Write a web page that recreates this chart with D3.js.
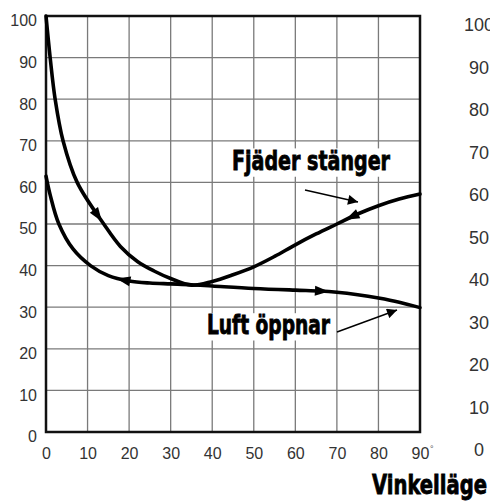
<!DOCTYPE html>
<html>
<head>
<meta charset="utf-8">
<script src="https://cdn.jsdelivr.net/npm/d3@7"></script>
<style>
  body { margin: 0; background: #fff; }
  svg { display: block; }
</style>
</head>
<body>
<div id="chart"></div>
<script>
// Data
const fjaderX = [0, 1, 2.2, 4.1, 7.5, 13.9, 17.9, 22, 26, 30, 35, 40, 45, 50, 55, 60, 65, 70, 75, 80, 85, 90];
const fjaderY = [100, 90, 80, 70, 60, 50, 44.6, 41.0, 38.7, 36.9, 35.3, 36.2, 37.8, 39.7, 42.2, 45.0, 47.6, 50.0, 52.4, 54.4, 56.0, 57.2];
const luftX = [0, 1, 3.1, 6.5, 10.7, 15, 20, 25, 30, 35, 40, 50, 60, 66, 70, 75, 80, 85, 90];
const luftY = [61.5, 57, 50, 44, 40, 37.6, 36.3, 35.8, 35.6, 35.4, 35.1, 34.5, 34.1, 33.9, 33.6, 33.0, 32.2, 31.2, 29.9];
// arrowheads on the curves: x position and direction (+1 toward higher x, -1 toward lower)
const fjaderArrows = [{ x: 12.5, dir: 1 }, { x: 73.6, dir: -1 }];
const luftArrows = [{ x: 18.6, dir: -1 }, { x: 66.4, dir: 1 }];
const xTicks = [0, 10, 20, 30, 40, 50, 60, 70, 80, 90];
const yTicks = [0, 10, 20, 30, 40, 50, 60, 70, 80, 90, 100];

const width = 490, height = 501;
const margin = { top: 16, right: 70, bottom: 69, left: 46 };

const svg = d3.select("#chart").append("svg")
    .attr("width", width)
    .attr("height", height);

const x = d3.scaleLinear().domain([0, 90]).range([margin.left, width - margin.right]);
const y = d3.scaleLinear().domain([0, 100]).range([height - margin.bottom, margin.top]);

// grid
svg.append("g")
    .selectAll("line.v")
    .data(xTicks)
    .enter().append("line")
    .attr("x1", d => x(d)).attr("x2", d => x(d))
    .attr("y1", y(0)).attr("y2", y(100))
    .style("stroke", "#7a7a7a")
    .style("stroke-width", 1.3);

svg.append("g")
    .selectAll("line.h")
    .data(yTicks)
    .enter().append("line")
    .attr("x1", x(0)).attr("x2", x(90))
    .attr("y1", d => y(d)).attr("y2", d => y(d))
    .style("stroke", "#7a7a7a")
    .style("stroke-width", 1.3);

// frame
svg.append("rect")
    .attr("x", x(0)).attr("y", y(100))
    .attr("width", x(90) - x(0))
    .attr("height", y(0) - y(100))
    .style("fill", "none")
    .style("stroke", "#111")
    .style("stroke-width", 2.5);

// axes
const yAxis = svg.append("g")
    .attr("transform", `translate(${x(0)},0)`)
    .call(d3.axisLeft(y).tickValues(yTicks).tickSize(0).tickPadding(9));
yAxis.select(".domain").remove();
yAxis.selectAll("text")
    .attr("dy", "0.62em")
    .style("font-family", "'Liberation Sans', Arial, sans-serif")
    .style("font-size", "16px")
    .style("fill", "#333");

const xAxis = svg.append("g")
    .attr("transform", `translate(0,${y(0)})`)
    .call(d3.axisBottom(x).tickValues(xTicks).tickSize(0).tickPadding(16));
xAxis.select(".domain").remove();
xAxis.selectAll("text")
    .style("font-family", "'Liberation Sans', Arial, sans-serif")
    .style("font-size", "16px")
    .style("fill", "#333");

svg.append("text")
    .attr("x", x(90) + 10)
    .attr("y", y(0) + 20)
    .style("font-family", "'Liberation Sans', Arial, sans-serif")
    .style("font-size", "9px")
    .style("fill", "#555")
    .text("°");

// second chart's axis, cut off at the right edge
const y2 = d3.scaleLinear().domain([0, 100]).range([450, 25]);
svg.append("g")
    .selectAll("text")
    .data(yTicks)
    .enter().append("text")
    .attr("x", 479)
    .attr("y", d => y2(d))
    .attr("dy", "0.35em")
    .attr("text-anchor", "middle")
    .style("font-family", "'Liberation Sans', Arial, sans-serif")
    .style("font-size", "18px")
    .style("fill", "#333")
    .text(d => d);

// curves
const line = d3.line()
    .x(d => x(d[0]))
    .y(d => y(d[1]))
    .curve(d3.curveCatmullRom.alpha(0.5));

function drawCurve(xs, ys, arrows) {
    const pts = xs.map((v, i) => [v, ys[i]]);
    const path = svg.append("path")
        .datum(pts)
        .attr("d", line)
        .style("fill", "none")
        .style("stroke", "#000")
        .style("stroke-width", 3.6)
        .style("stroke-linecap", "round");

    const node = path.node();
    const total = node.getTotalLength();
    arrows.forEach(a => {
        const px = x(a.x);
        let lo = 0, hi = total;
        for (let i = 0; i < 40; i++) {
            const mid = (lo + hi) / 2;
            if (node.getPointAtLength(mid).x < px) lo = mid; else hi = mid;
        }
        const p = node.getPointAtLength(lo);
        const p1 = node.getPointAtLength(Math.max(0, lo - 3));
        const p2 = node.getPointAtLength(Math.min(total, lo + 3));
        let ang = Math.atan2(p2.y - p1.y, p2.x - p1.x) * 180 / Math.PI;
        if (a.dir < 0) ang += 180;
        svg.append("path")
            .attr("d", "M7,0 L-7,-5 L-7,5 Z")
            .attr("transform", `translate(${p.x},${p.y}) rotate(${ang})`)
            .style("fill", "#000");
    });
}

drawCurve(fjaderX, fjaderY, fjaderArrows);
drawCurve(luftX, luftY, luftArrows);

// labels with white background
const boldFont = "'Liberation Sans Narrow', 'DejaVu Sans Condensed', Roboto, sans-serif";
function label(text, lx, ly, w, size) {
    svg.append("rect")
        .attr("x", lx - 3).attr("y", ly - size * 0.8)
        .attr("width", w + 6).attr("height", size * 1.05)
        .style("fill", "#fff");
    svg.append("text")
        .attr("x", lx).attr("y", ly)
        .attr("textLength", w)
        .attr("lengthAdjust", "spacingAndGlyphs")
        .style("font-family", boldFont)
        .style("font-weight", "bold")
        .style("font-size", size + "px")
        .style("fill", "#000")
        .style("stroke", "#000")
        .style("stroke-width", 0.8)
        .text(text);
}
label("Fjäder stänger", 232, 170, 158, 27);
label("Luft öppnar", 207, 334, 123, 26);

// pointer arrows
svg.append("defs").append("marker")
    .attr("id", "head")
    .attr("viewBox", "0 0 10 10")
    .attr("refX", 10).attr("refY", 5)
    .attr("markerWidth", 12).attr("markerHeight", 10)
    .attr("markerUnits", "userSpaceOnUse")
    .attr("orient", "auto")
    .append("path")
    .attr("d", "M0,0 L10,5 L0,10 Z")
    .style("fill", "#000");

svg.append("line")
    .attr("x1", 305).attr("y1", 190).attr("x2", 358).attr("y2", 202)
    .style("stroke", "#000").style("stroke-width", 1.4)
    .attr("marker-end", "url(#head)");

svg.append("line")
    .attr("x1", 337).attr("y1", 332).attr("x2", 397).attr("y2", 310)
    .style("stroke", "#000").style("stroke-width", 1.4)
    .attr("marker-end", "url(#head)");

// axis title
svg.append("text")
    .attr("x", 372).attr("y", 494)
    .attr("textLength", 115)
    .attr("lengthAdjust", "spacingAndGlyphs")
    .style("font-family", boldFont)
    .style("font-weight", "bold")
    .style("font-size", "27px")
    .style("fill", "#000")
    .style("stroke", "#000")
    .style("stroke-width", 0.8)
    .text("Vinkelläge");
</script>
</body>
</html>
